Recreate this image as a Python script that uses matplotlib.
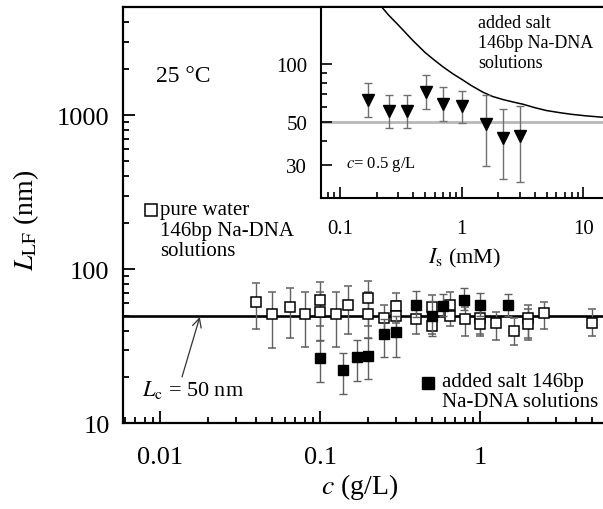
import matplotlib
matplotlib.use('Agg')
import matplotlib.pyplot as plt
from matplotlib.ticker import FixedLocator, NullFormatter, FuncFormatter, LogLocator
import numpy as np

plt.rcParams['font.family'] = ['Liberation Serif', 'DejaVu Serif']
plt.rcParams['mathtext.fontset'] = 'stix'

# pure water 146bp Na-DNA: c (g/L), L_LF (nm), lower / upper error bar ends
water_c = [0.040, 0.050, 0.065, 0.080, 0.100, 0.100, 0.125, 0.150, 0.200, 0.200,
           0.250, 0.300, 0.300, 0.400, 0.500, 0.500, 0.650, 0.650, 0.800, 1.000,
           1.000, 1.250, 1.620, 2.000, 2.000, 2.500, 5.000]
water_L = [61, 51, 56.5, 51.5, 63, 52.5, 51.5, 58.5, 65, 51,
           48, 58, 50, 47.5, 56.5, 43, 59, 50, 47.5, 48,
           44, 45, 40, 48.5, 44, 52, 45]
water_lo = [41, 31, 36, 31.5, 42.5, 34, 31.5, 38, 43, 36,
            39, 45, 40, 38, 45, 38, 48, 43, 37, 38,
            37, 34.5, 32, 34.5, 36, 41, 37]
water_hi = [81, 71, 76, 71, 83, 71, 71, 78, 84, 71,
            59, 70, 62, 58, 68, 52, 71, 60, 57, 60,
            55, 52.5, 48.5, 59, 55, 61.5, 55]

# added salt 146bp Na-DNA
salt_c = [0.100, 0.140, 0.170, 0.200, 0.250, 0.300, 0.400, 0.500, 0.590, 0.790, 1.000, 1.500]
salt_L = [26.5, 22.2, 26.8, 27.4, 38, 39, 59, 50, 58, 63, 59, 58.5]
salt_lo = [18.5, 15.5, 18.7, 19.4, 27, 27, 49, 37, 50, 54, 50, 50]
salt_hi = [34.5, 28.5, 34.8, 36, 47.5, 50, 72, 62, 69, 75, 70, 69]

Lc = 50

# inset: c = 0.5 g/L with added salt
ins_I = [0.171, 0.253, 0.353, 0.506, 0.706, 1.01, 1.57, 2.2, 3.01]
ins_L = [65.5, 57, 57, 71.4, 62.2, 60.7, 49, 41.5, 42.7]
ins_lo = [53.5, 46.6, 46.6, 58.6, 51, 49.6, 29.6, 25.3, 24.5]
ins_hi = [79.5, 69.5, 69.5, 87.8, 75.8, 72.8, 69.2, 58.6, 60.9]

curve_I = [0.21, 0.25, 0.3, 0.4, 0.5, 0.585, 0.7, 0.85, 1.0, 1.2, 1.5, 1.8,
           2.2, 2.7, 3.2, 4.0, 5.0, 6.5, 8.0, 10.5, 15]
curve_L = [205, 180, 160, 132, 115, 106, 97, 89, 83.5, 77.5, 71.5, 68,
           65.5, 63.5, 62, 59.5, 57.5, 56, 55, 54, 53]

fig = plt.figure(figsize=(6.03, 5.10), dpi=100)
ax = fig.add_axes([0.2048, 0.168, 0.7952, 0.8157])

ax.axhline(Lc, color='black', lw=1.9, zorder=2)

def err(L, lo, hi):
    L = np.array(L)
    return [L - np.array(lo), np.array(hi) - L]

ax.errorbar(water_c, water_L, yerr=err(water_L, water_lo, water_hi), fmt='s',
            ms=7.5, mfc='white', mec='black', mew=1.1, ecolor='#606060',
            elinewidth=1, capsize=3, capthick=1, zorder=3)
ax.errorbar(salt_c, salt_L, yerr=err(salt_L, salt_lo, salt_hi), fmt='s',
            ms=7.5, mfc='black', mec='black', ecolor='#606060',
            elinewidth=1, capsize=3, capthick=1, zorder=4)

ax.set_xscale('log')
ax.set_yscale('log')
ax.set_xlim(0.0059, 5.87)
ax.set_ylim(10, 5000)
ax.xaxis.set_major_locator(FixedLocator([0.01, 0.1, 1]))
ax.yaxis.set_major_locator(FixedLocator([10, 100, 1000]))
ax.xaxis.set_minor_locator(LogLocator(subs=np.arange(2, 10)))
ax.yaxis.set_minor_locator(LogLocator(subs=np.arange(2, 10)))
ax.xaxis.set_minor_formatter(NullFormatter())
ax.yaxis.set_minor_formatter(NullFormatter())
ax.xaxis.set_major_formatter(FuncFormatter(lambda v, p: '%g' % v))
ax.yaxis.set_major_formatter(FuncFormatter(lambda v, p: '%g' % v))
ax.tick_params(which='both', direction='in', top=False, right=False, width=1.3)
ax.tick_params(which='major', length=8.5, labelsize=19)
ax.tick_params(which='minor', length=4.5)
ax.tick_params(axis='x', which='major', pad=16)
ax.tick_params(axis='y', which='major', pad=10)
for s in ax.spines.values():
    s.set_linewidth(1.6)
ax.spines['right'].set_visible(False)

ax.set_xlabel(r'$c$ (g/L)', fontsize=20)
ax.set_ylabel(r'$L_{\rm LF}$ (nm)', fontsize=20)
ax.xaxis.set_label_coords(0.493, -0.115)
ax.yaxis.set_label_coords(-0.172, 0.49)

ax.text(0.067, 0.835, '25 °C', transform=ax.transAxes, fontsize=17, va='center')
ax.plot([0.057], [0.513], 's', ms=8, mfc='white', mec='black', mew=1.1,
        transform=ax.transAxes, clip_on=False)
ax.text(0.076, 0.536, 'pure water\n146bp Na-DNA\nsolutions', transform=ax.transAxes,
        fontsize=15, va='top', linespacing=1.1)
ax.plot([0.635], [0.0975], 's', ms=8, mfc='black', mec='black',
        transform=ax.transAxes, clip_on=False)
ax.text(0.664, 0.124, 'added salt 146bp\nNa-DNA solutions', transform=ax.transAxes,
        fontsize=15, va='top', linespacing=1.1)
ax.text(0.038, 0.0825, r'$L_{\rm c}$ = 50 nm', transform=ax.transAxes,
        fontsize=16, va='center')
ax.annotate('', xy=(0.0178, Lc), xytext=(0.0137, 20),
            arrowprops=dict(arrowstyle='->', lw=0.9, color='#333333',
                            mutation_scale=16, shrinkA=0, shrinkB=1))

# inset
ins = fig.add_axes([0.5323, 0.6092, 0.4677, 0.3745])
ins.axhline(Lc, color='#b8b8b8', lw=2, zorder=1)
ins.plot(curve_I, curve_L, color='black', lw=1.1, zorder=2)
ins.errorbar(ins_I, ins_L, yerr=err(ins_L, ins_lo, ins_hi), fmt='v', ms=9,
             mfc='black', mec='black', ecolor='#707070', elinewidth=1,
             capsize=3, capthick=1, zorder=3)
ins.set_xscale('log')
ins.set_yscale('log')
ins.set_xlim(0.0698, 14.5)
ins.set_ylim(20.2, 197)
ins.xaxis.set_major_locator(FixedLocator([0.1, 1, 10]))
ins.xaxis.set_minor_locator(LogLocator(subs=np.arange(2, 10)))
ins.yaxis.set_major_locator(FixedLocator([30, 50, 100]))
ins.yaxis.set_minor_locator(FixedLocator([40, 60, 70, 80, 90]))
ins.xaxis.set_minor_formatter(NullFormatter())
ins.yaxis.set_minor_formatter(NullFormatter())
ins.xaxis.set_major_formatter(FuncFormatter(lambda v, p: '%g' % v))
ins.yaxis.set_major_formatter(FuncFormatter(lambda v, p: '%g' % v))
ins.tick_params(which='both', direction='in', top=False, right=False, width=1.2)
ins.tick_params(which='major', length=8, labelsize=15)
ins.tick_params(which='minor', length=4.5)
ins.tick_params(axis='x', which='major', pad=15)
ins.tick_params(axis='y', which='major', pad=10)
for s in ins.spines.values():
    s.set_linewidth(1.5)
ins.spines['right'].set_visible(False)
ins.set_xlabel(r'$I_{\rm s}$ (mM)', fontsize=16)
ins.xaxis.set_label_coords(0.51, -0.25)
ins.text(0.557, 0.965, 'added salt\n146bp Na-DNA\nsolutions', transform=ins.transAxes,
         fontsize=13, va='top', linespacing=1.25)
ins.text(0.089, 0.18, r'$c$= 0.5 g/L', transform=ins.transAxes, fontsize=12,
         va='center')

fig.savefig('out.png', dpi=100)
